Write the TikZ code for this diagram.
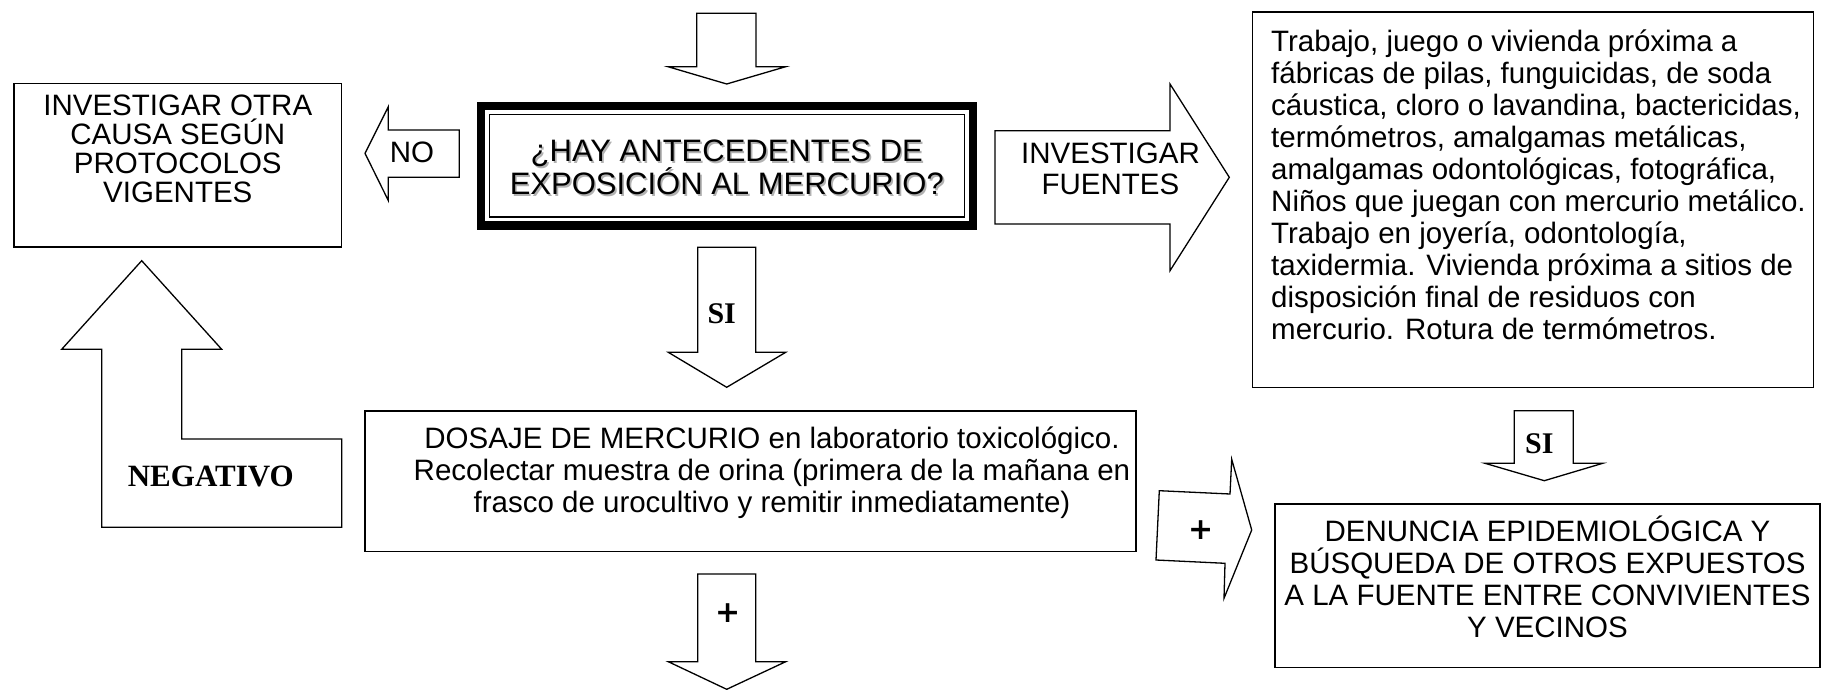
\documentclass[tikz,border=0pt]{standalone}
\usepackage{fontspec}
\setmainfont{Liberation Sans}
\newfontfamily\timesf{Liberation Serif}
\newfontfamily\dejavuf{DejaVu Sans}
\newcommand\fixls{\lineskiplimit=-100pt\lineskip=0pt\relax}
\begin{document}
\begin{tikzpicture}[x=1pt,y=-1pt,
  shapeline/.style={draw=black, line width=1.3pt, fill=white, line join=miter},
  boxnode/.style={draw=black, line width=1.3pt, fill=white, inner sep=0pt, outer sep=0pt, anchor=north west},
  txt/.style={font=\fontsize{29.5}{32}\selectfont\fixls, align=center, inner sep=0pt, anchor=north},
  txtl/.style={font=\fontsize{29.5}{32}\selectfont\fixls, align=left, inner sep=0pt, anchor=north west},
  qtxt/.style={font=\fontsize{31}{33}\selectfont\fixls, align=center, inner sep=0pt, anchor=north},
  lbl/.style={font=\fontsize{29.5}{31}\selectfont\fixls, align=center, inner sep=0pt},
  boldlbl/.style={font=\timesf\bfseries\fontsize{30}{30}\selectfont, inner sep=0pt},
  pluslbl/.style={font=\dejavuf\bfseries\fontsize{30}{30}\selectfont, inner sep=0pt}
]
\fill[white] (0,0) rectangle (1823,690);
\useasboundingbox (0,0) rectangle (1823,690);

% ---------- boxes ----------
\node[boxnode, minimum width=327.7pt, minimum height=163.7pt] (otra) at (14,83.3) {};
\node[boxnode, minimum width=561pt, minimum height=375.3pt] (fuentes) at (1252.3,12) {};
\node[boxnode, minimum width=771pt, minimum height=140.5pt] (dosaje) at (365,411) {};
\node[boxnode, minimum width=545pt, minimum height=163.7pt] (denuncia) at (1275,504) {};
% central double-bordered box
\node[draw=black, line width=8.5pt, fill=white, inner sep=0pt, outer sep=0pt, anchor=north west,
      minimum width=491.8pt, minimum height=119pt] (pregunta) at (480.95,106.25) {};
\draw[line width=1.3pt] ([shift={(8.25,8.25)}]pregunta.north west) rectangle ([shift={(-8.25,-8.25)}]pregunta.south east);

% ---------- texts in boxes ----------
\node[txt, font=\fontsize{29.5}{29.2}\selectfont\fixls] (otratxt) at (177.8,94.3) {\strut INVESTIGAR OTRA\\\strut CAUSA SEGÚN\\\strut PROTOCOLOS\\\strut VIGENTES};
\node[qtxt, text=black!30] (preguntasombra) at (728.5,139.9) {\strut ¿HAY ANTECEDENTES DE\\\strut EXPOSICIÓN AL MERCURIO?};
\node[qtxt] (preguntatxt) at (726.8,138.4) {\strut ¿HAY ANTECEDENTES DE\\\strut EXPOSICIÓN AL MERCURIO?};
\node[txtl] (fuentestxt) at (1271,28.6) {\strut Trabajo, juego o vivienda próxima a\\
\strut fábricas de pilas, funguicidas, de soda\\
\strut cáustica, cloro o lavandina, bactericidas,\\
\strut termómetros, amalgamas metálicas,\\
\strut amalgamas odontológicas, fotográfica,\\
\strut Niños que juegan con mercurio metálico.\\
\strut Trabajo en joyería, odontología,\\
\strut taxidermia. Vivienda próxima a sitios de\\
\strut disposición final de residuos con\\
\strut mercurio. Rotura de termómetros.};
\node[txt] (dosajetxt) at (772,426.1) {\strut DOSAJE DE MERCURIO en laboratorio toxicológico.\\
\strut Recolectar muestra de orina (primera de la mañana en\\
\strut frasco de urocultivo y remitir inmediatamente)};
\node[txt] (denunciatxt) at (1547.5,516) {\strut DENUNCIA EPIDEMIOLÓGICA Y\\
\strut BÚSQUEDA DE OTROS EXPUESTOS\\
\strut A LA FUENTE ENTRE CONVIVIENTES\\
\strut Y VECINOS};

% ---------- block arrows ----------
% top arrow into question
\draw[shapeline] (696.7,13.3) -- (756,13.3) -- (756,66.7) -- (785.7,66.7) -- (726.7,84) -- (668,66.7) -- (696.7,66.7) -- cycle;
% NO arrow (left)
\draw[shapeline] (459.3,130) -- (388.3,130) -- (388.3,106.7) -- (365,153.3) -- (388.3,200.5) -- (388.3,177.3) -- (459.3,177.3) -- cycle;
\node[lbl] (nolbl) at (412,152) {NO};
% INVESTIGAR FUENTES arrow (right)
\draw[shapeline] (995,130.7) -- (1170,130.7) -- (1170,84) -- (1229.3,177.3) -- (1170,270.7) -- (1170,224) -- (995,224) -- cycle;
\node[lbl, anchor=north] (invlbl) at (1110.5,142) {\strut INVESTIGAR\\\strut FUENTES};
% SI arrow (central, down)
\draw[shapeline] (697.7,247.3) -- (755.7,247.3) -- (755.7,352.3) -- (785.7,352.3) -- (726.7,387.3) -- (668.3,352.3) -- (697.7,352.3) -- cycle;
\node[boldlbl] (silbl) at (721.7,313.3) {SI};
% NEGATIVO arrow (L-shaped, up)
\draw[shapeline] (141.7,260.7) -- (221.7,349.3) -- (181.7,349.3) -- (181.7,439) -- (341.7,439) -- (341.7,527.3) -- (101.7,527.3) -- (101.7,349.3) -- (61.7,349.3) -- cycle;
\node[boldlbl, font=\timesf\bfseries\fontsize{31}{31}\selectfont] (neglbl) at (210.8,476.7) {NEGATIVO};
% SI arrow (right, down)
\draw[shapeline] (1514.3,410.7) -- (1573.3,410.7) -- (1573.3,463.3) -- (1602.7,463.3) -- (1544.3,480.7) -- (1485,463.3) -- (1514.3,463.3) -- cycle;
\node[boldlbl] (si2lbl) at (1539.3,443.3) {SI};
% + arrow (right)
\draw[shapeline] (1159.3,490.7) -- (1230,494) -- (1231.7,459.3) -- (1251.7,530) -- (1224,598.3) -- (1225,563.3) -- (1156,560) -- cycle;
\node[pluslbl] (pluslbl) at (1200.7,530) {+};
% + arrow (down, bottom)
\draw[shapeline] (697.7,574) -- (755.7,574) -- (755.7,661.7) -- (785.7,661.7) -- (726.7,689.3) -- (668.3,661.7) -- (697.7,661.7) -- cycle;
\node[pluslbl] (plus2lbl) at (727.7,613.3) {+};
\end{tikzpicture}
\end{document}
